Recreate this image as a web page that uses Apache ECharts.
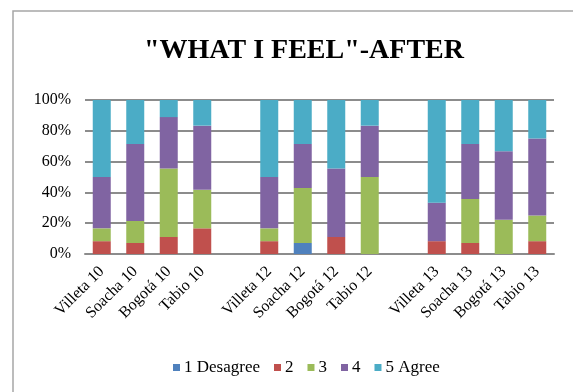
<!DOCTYPE html>
<html>
<head>
<meta charset="utf-8">
<style>
  html, body { margin: 0; padding: 0; background: #fff; }
  #chart { width: 573px; height: 392px; }
</style>
<script src="https://cdn.jsdelivr.net/npm/echarts@6/dist/echarts.min.js"></script>
</head>
<body>
<div id="chart"></div>
<script>
// Sites by year; empty strings leave a gap between the year groups
const categories = [
  'Villeta 10', 'Soacha 10', 'Bogotá 10', 'Tabio 10', '',
  'Villeta 12', 'Soacha 12', 'Bogotá 12', 'Tabio 12', '',
  'Villeta 13', 'Soacha 13', 'Bogotá 13', 'Tabio 13'
];

// Share of answers (%) for each level of agreement
const disagree1 = [0, 0, 0, 0, null, 0, 7.14, 0, 0, null, 0, 0, 0, 0];
const level2    = [8.33, 7.14, 11.11, 16.67, null, 8.33, 0, 11.11, 0, null, 8.33, 7.14, 0, 8.33];
const level3    = [8.33, 14.29, 44.44, 25, null, 8.33, 35.71, 0, 50, null, 0, 28.57, 22.22, 16.67];
const level4    = [33.33, 50, 33.33, 41.67, null, 33.33, 28.57, 44.44, 33.33, null, 25, 35.71, 44.44, 50];
const agree5    = [50, 28.57, 11.11, 16.67, null, 50, 28.57, 44.44, 16.67, null, 66.67, 28.57, 33.33, 25];

const seriesNames = ['1 Desagree', '2', '3', '4', '5 Agree'];
const seriesData = [disagree1, level2, level3, level4, agree5];
const colors = ['#4F81BD', '#C0504D', '#9BBB59', '#8064A2', '#4BACC6'];

const yTicks = [0, 20, 40, 60, 80, 100];

const font = 'Liberation Serif, Times New Roman, serif';

const chart = echarts.init(document.getElementById('chart'), null, { renderer: 'canvas' });

chart.setOption({
  animation: false,
  backgroundColor: '#ffffff',
  color: colors,
  graphic: [{
    type: 'rect',
    shape: { x: 13, y: 11, width: 620, height: 420 },
    style: { fill: 'none', stroke: '#a6a6a6', lineWidth: 1.5 },
    silent: true,
    z: 0
  }],
  title: {
    text: '"WHAT I FEEL"-AFTER',
    left: 299,
    textAlign: 'center',
    top: 32,
    textStyle: { fontFamily: font, fontSize: 28, fontWeight: 'bold', color: '#000' }
  },
  legend: {
    data: seriesNames,
    top: 354,
    left: 168,
    icon: 'rect',
    itemWidth: 7,
    itemHeight: 7,
    itemGap: 14,
    textStyle: { fontFamily: font, fontSize: 17, color: '#000', padding: [0, 0, 0, -1] }
  },
  grid: { left: 85, right: 19, top: 100, bottom: 138 },
  xAxis: {
    type: 'category',
    data: categories,
    axisLine: { lineStyle: { color: '#8c8c8c', width: 2 } },
    axisTick: { show: false },
    axisLabel: {
      rotate: 45,
      interval: 0,
      fontFamily: font,
      fontSize: 16,
      color: '#000',
      margin: 15
    }
  },
  yAxis: {
    type: 'value',
    min: yTicks[0],
    max: yTicks[yTicks.length - 1],
    interval: 20,
    axisLine: { show: false },
    axisTick: { show: false },
    splitLine: { lineStyle: { color: '#8c8c8c', width: 2 } },
    axisLabel: {
      formatter: '{value}%',
      fontFamily: font,
      fontSize: 16,
      color: '#000',
      margin: 14
    }
  },
  series: seriesNames.map((name, i) => ({
    name: name,
    type: 'bar',
    stack: 'total',
    barWidth: 18,
    data: seriesData[i],
    itemStyle: { color: colors[i] }
  }))
});
</script>
</body>
</html>
